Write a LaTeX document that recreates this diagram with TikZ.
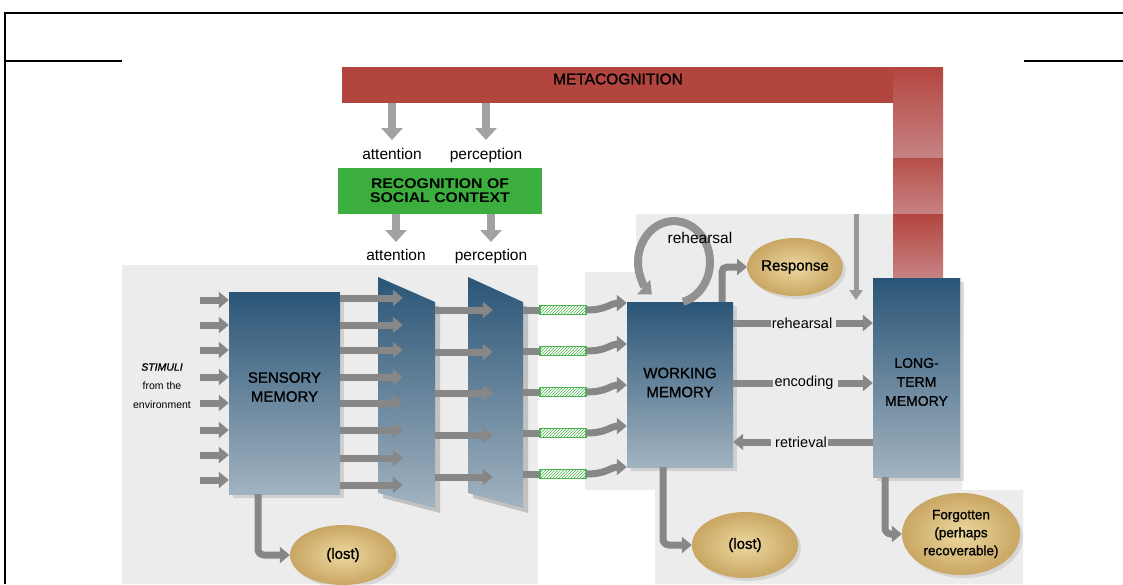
\documentclass[tikz,border=0pt]{standalone}
\usepackage{fontspec}
\setmainfont{Liberation Sans}
\newfontfamily\semibf[FakeBold=1.2]{Liberation Sans}
\usepackage{graphicx}
\usetikzlibrary{arrows.meta,shapes.geometric,shadows,patterns}
\definecolor{arrowgray}{HTML}{878787}
\definecolor{lightgray2}{HTML}{A2A2A2}
\definecolor{boxtop}{HTML}{2A5577}
\definecolor{boxbot}{HTML}{A2B3C0}
\definecolor{tanin}{HTML}{EDD8A0}
\definecolor{tanout}{HTML}{C9A663}
\definecolor{metared}{HTML}{B3453F}
\definecolor{metalight}{HTML}{C78383}
\definecolor{socgreen}{HTML}{3BAE3E}
\definecolor{hatchgreen}{HTML}{4DB550}
\definecolor{photobg}{HTML}{ECECEC}
\begin{document}
\begin{tikzpicture}[x=1pt,y=-1pt,
  lbl/.style={font=\fontsize{15.5}{18}\selectfont, inner sep=0pt},
  rowlbl/.style={font=\fontsize{14.5}{17}\selectfont, inner sep=1pt, fill=photobg},
  boxlbl/.style={font=\semibf\fontsize{15}{19}\selectfont, align=center, inner sep=0pt},
  membox/.style={draw=none, top color=boxtop, bottom color=boxbot, inner sep=0pt,
     drop shadow={shadow xshift=4pt, shadow yshift=-4pt, opacity=.25}},
  filterbox/.style={draw=none, inner sep=0pt},
  garrow/.style={draw=arrowgray, line width=7pt, -{Triangle[length=10pt,width=16pt]}},
  gbar/.style={draw=arrowgray, line width=7pt},
  larrow/.style={draw=lightgray2, line width=8pt, -{Triangle[length=12pt,width=21pt]}},
  thinarrow/.style={draw=arrowgray!85!white, line width=5pt, -{Triangle[length=10pt,width=13pt]}},
  oval/.style={ellipse, inner sep=0pt, inner color=tanin, outer color=tanout,
     drop shadow={shadow xshift=3pt, shadow yshift=-3pt, opacity=.2}},
  hatchbar/.style={draw=hatchgreen, line width=1.2pt, fill=white, minimum width=46pt,
     minimum height=9pt, inner sep=0pt, postaction={pattern=north east lines, pattern color=hatchgreen}}
]
\useasboundingbox (0,0) rectangle (1123,584);
\fill[white] (0,0) rectangle (1123,584);

% photo background patches
\fill[photobg] (122,265) rectangle (538,584);
\fill[photobg] (585,272) -- (636,272) -- (636,214) -- (943,214) -- (943,278) -- (962,278)
  -- (962,490) -- (1023,490) -- (1023,584) -- (655,584) -- (655,490) -- (585,490) -- cycle;

% frame
\draw[line width=1.6pt] (5,584) -- (5,13) -- (1123,13);
\draw[line width=1.6pt] (5,61) -- (122,61);
\draw[line width=1.6pt] (1024,61) -- (1123,61);

% metacognition bar
\node[fill=metared, minimum width=601pt, minimum height=36pt, inner sep=0pt] (metabar) at (642.5,85) {};
\shade[top color=metared, bottom color=metalight] (893,67) rectangle (943,158);
\shade[top color=metared!95!white, bottom color=metalight] (893,158) rectangle (943,214);
\shade[top color=metared, bottom color=metalight] (893,214) rectangle (943,278);
\node[font=\semibf\fontsize{15.5}{18}\selectfont, inner sep=0pt] (metatext) at (618,79) {METACOGNITION};

% attention / perception (upper)
\node[lbl, anchor=base] (att1) at (392,159) {attention};
\node[lbl, anchor=base] (per1) at (486,159) {perception};
\draw[larrow] (metabar.south -| att1.base) -- ([yshift=19pt]att1.base);
\draw[larrow] (metabar.south -| per1.base) -- ([yshift=19pt]per1.base);

% social context
\node[fill=socgreen, minimum width=204pt, minimum height=46pt, inner sep=0pt,
      font=\bfseries\fontsize{14}{14}\selectfont, align=center] (soc) at (440,191)
      {\scalebox{1.13}[1]{RECOGNITION OF}\\[0pt]\scalebox{1.13}[1]{SOCIAL CONTEXT}};

\node[lbl, anchor=base] (att2) at (396,260) {attention};
\node[lbl, anchor=base] (per2) at (491,260) {perception};
\draw[larrow] (soc.south -| att2.base) -- ([yshift=18pt]att2.base);
\draw[larrow] (soc.south -| per2.base) -- ([yshift=18pt]per2.base);

% filters (trapezoids)
\fill[black, opacity=.18] (383,282) -- (440,307) -- (440,513) -- (383,498) -- cycle;
\shade[top color=boxtop, bottom color=boxbot] (378,277) -- (435,302) -- (435,508) -- (378,493) -- cycle;
\node[filterbox, minimum width=57pt, minimum height=231pt] (f1) at (406.5,392.5) {};
\fill[black, opacity=.18] (473,282) -- (528,307) -- (528,513) -- (473,498) -- cycle;
\shade[top color=boxtop, bottom color=boxbot] (468,277) -- (523,302) -- (523,508) -- (468,493) -- cycle;
\node[filterbox, minimum width=55pt, minimum height=231pt] (f2) at (495.5,392.5) {};
\coordinate (f1in) at ([xshift=25pt]f1.west);
\coordinate (f2in) at ([xshift=25pt]f2.west);

% sensory memory
\node[membox, minimum width=111pt, minimum height=202pt] (sm) at (284.5,393) {};
\node[boxlbl] (smlabel) at ([yshift=6pt]sm.center) {SENSORY\\MEMORY};

% stimuli
\node[font=\fontsize{10.5}{19}\selectfont, align=center, inner sep=0pt] (stim) at (162,386)
  {{\semibf\itshape STIMULI}\\from the\\environment};
\foreach \yy in {300,325,350,377,403,430,455,480}
  \draw[garrow] (200,\yy) -- (sm.west |- 0,\yy);

% sensory -> filter 1
\foreach \yy in {298,325,350,377,403,430,458,485}
  \draw[garrow] (sm.east |- 0,\yy) -- (f1in |- 0,\yy);

% filter 1 -> filter 2
\foreach \yy in {310,352,393,435,477}
  \draw[garrow] (f1.east |- 0,\yy) -- (f2in |- 0,\yy);

% working memory
\node[membox, minimum width=106pt, minimum height=165pt] (wm) at (680,384.5) {};
\node[boxlbl] (wmlabel) at ([yshift=2pt]wm.center) {WORKING\\MEMORY};

% filter 2 -> hatched bars -> working memory
\foreach \yy [count=\i] in {310,351,392,433,474} {
  \node[hatchbar] (h\i) at (563,\yy) {};
  \draw[gbar] (f2.east |- h\i.west) -- (h\i.west);
  \draw[garrow] (h\i.east) .. controls +(20,0) and +(-16,0) .. (wm.west |- 0,\yy-7);
}

% long-term memory
\node[membox, minimum width=87pt, minimum height=199pt] (ltm) at (916.5,377.5) {};
\node[boxlbl, font=\semibf\fontsize{14}{19}\selectfont] (ltmlabel) at ([yshift=-4.5pt]ltm.center) {LONG-\\TERM\\MEMORY};

% rehearsal loop
\draw[draw=lightgray2!90!black, line width=8pt, -{Triangle[length=11pt,width=19pt]}]
  (wm.north -| 683,0) arc[start angle=75.5, end angle=-232, x radius=36, y radius=41];
\node[lbl] (reh1) at (700,238) {rehearsal};

% response
\node[oval, minimum width=80pt, minimum height=58pt, font=\semibf\fontsize{15}{18}\selectfont] (resp) at (795,267) {Response};
\draw[garrow, rounded corners=5pt] (wm.north -| 722,0) |- (resp.west);

% thin arrow from above
\coordinate (ta) at (856,214);
\coordinate (tb) at (856,300);
\draw[thinarrow] (ta) -- (tb);

% wm <-> ltm
\node[rowlbl] (reh2) at (802,323) {rehearsal};
\node[rowlbl] (enc) at (804,383) {encoding};
\node[rowlbl] (ret) at (801,442) {retrieval};
\draw[gbar] (wm.east |- reh2.west) -- (reh2.west);
\draw[garrow, shorten <=3pt] (reh2.east) -- (ltm.west |- reh2.east);
\draw[gbar] (wm.east |- enc.west) -- (enc.west);
\draw[garrow, shorten <=3pt] (enc.east) -- (ltm.west |- enc.east);
\draw[gbar] (ltm.west |- ret.east) -- (ret.east);
\draw[garrow, shorten <=3pt] (ret.west) -- (wm.east |- ret.west);

% lost / forgotten
\node[oval, minimum width=106pt, minimum height=60pt, font=\semibf\fontsize{15}{18}\selectfont] (lost1) at (343,555) {(lost)};
\draw[garrow, rounded corners=6pt] (sm.south -| 258,0) |- (lost1.west);
\node[oval, minimum width=106pt, minimum height=66pt, font=\semibf\fontsize{15}{18}\selectfont] (lost2) at (745,545) {(lost)};
\draw[garrow, rounded corners=6pt] (wm.south -| 663,0) |- (lost2.west);
\node[oval, minimum width=118pt, minimum height=82pt, align=center, font=\semibf\fontsize{13.5}{18}\selectfont] (forg) at (961,534) {Forgotten\\(perhaps\\recoverable)};
\draw[garrow, rounded corners=6pt] (ltm.south -| 885,0) |- (forg.west);
\end{tikzpicture}
\end{document}
